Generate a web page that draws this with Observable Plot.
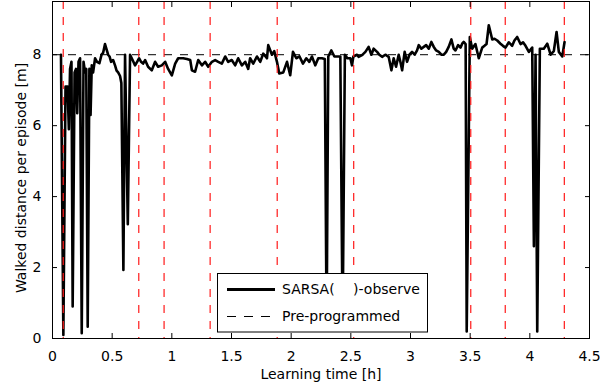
<!DOCTYPE html>
<html>
<head>
<meta charset="utf-8">
<script src="https://cdn.jsdelivr.net/npm/d3@7"></script>
<script src="https://cdn.jsdelivr.net/npm/@observablehq/plot@0.6"></script>
<style>
  html, body { margin: 0; padding: 0; background: white; }
  #chart svg { display: block; }
</style>
</head>
<body>
<div id="chart"></div>
<script>
// Learning time [h] of each episode
const learningTime = [
  0.071, 0.091, 0.109, 0.126, 0.137, 0.147, 0.159, 0.169, 0.185, 0.197,
  0.207, 0.218, 0.231, 0.245, 0.260, 0.273, 0.283, 0.295, 0.309, 0.319,
  0.329, 0.340, 0.357, 0.373, 0.393, 0.411, 0.424, 0.440, 0.453, 0.466,
  0.478, 0.491, 0.508, 0.524, 0.537, 0.550, 0.566, 0.577, 0.594, 0.608,
  0.631, 0.650, 0.671, 0.692, 0.709, 0.726, 0.742, 0.759, 0.776, 0.801,
  0.832, 0.860, 0.885, 0.916, 0.944, 0.969, 1.000, 1.028, 1.053, 1.095,
  1.126, 1.154, 1.168, 1.195, 1.221, 1.252, 1.279, 1.305, 1.336, 1.363,
  1.389, 1.419, 1.447, 1.472, 1.502, 1.531, 1.556, 1.587, 1.615, 1.640,
  1.656, 1.682, 1.713, 1.741, 1.766, 1.797, 1.808, 1.839, 1.858, 1.881,
  1.900, 1.934, 1.965, 1.992, 2.015, 2.043, 2.070, 2.099, 2.127, 2.152,
  2.174, 2.202, 2.227, 2.258, 2.282, 2.297, 2.311, 2.336, 2.362, 2.387,
  2.412, 2.431, 2.450, 2.471, 2.496, 2.510, 2.521, 2.552, 2.565, 2.594,
  2.622, 2.649, 2.672, 2.691, 2.720, 2.739, 2.762, 2.789, 2.817, 2.840,
  2.859, 2.879, 2.901, 2.915, 2.930, 2.951, 2.971, 2.991, 3.013, 3.035,
  3.055, 3.069, 3.091, 3.111, 3.131, 3.153, 3.175, 3.195, 3.215, 3.237,
  3.259, 3.279, 3.299, 3.320, 3.343, 3.362, 3.377, 3.399, 3.419, 3.433,
  3.446, 3.462, 3.471, 3.497, 3.517, 3.544, 3.572, 3.601, 3.620, 3.637,
  3.656, 3.685, 3.704, 3.727, 3.754, 3.775, 3.796, 3.824, 3.852, 3.871,
  3.894, 3.922, 3.943, 3.964, 3.992, 4.020, 4.034, 4.048, 4.062, 4.084,
  4.117, 4.146, 4.174, 4.201, 4.224, 4.243, 4.272, 4.291
];
// Walked distance per episode [m], SARSA(λ)-observe
const walkedDistance = [
  8.00, 0.10, 7.10, 7.10, 5.90, 7.60, 7.80, 0.90, 7.50, 7.60,
  6.35, 7.80, 7.90, 0.15, 7.80, 7.50, 7.60, 0.33, 7.60, 6.30,
  7.70, 7.50, 7.90, 7.80, 7.76, 8.00, 8.05, 8.30, 8.15, 8.00,
  7.95, 7.80, 7.85, 7.70, 7.55, 7.50, 7.40, 7.20, 1.93, 8.00,
  3.22, 8.00, 7.85, 7.70, 7.80, 7.90, 7.80, 7.75, 7.85, 7.66,
  7.56, 7.80, 7.66, 7.70, 7.80, 7.60, 7.42, 7.75, 7.90, 7.90,
  7.88, 7.85, 7.56, 7.52, 7.85, 7.70, 7.80, 7.66, 7.80, 7.85,
  7.80, 7.75, 7.95, 7.80, 7.85, 7.70, 7.90, 7.70, 7.80, 7.60,
  7.90, 7.75, 7.95, 7.80, 8.03, 7.90, 8.27, 8.00, 8.10, 7.80,
  7.47, 7.50, 7.80, 7.42, 8.08, 7.90, 7.95, 7.75, 7.90, 7.80,
  7.95, 7.70, 7.90, 7.90, 7.88, 0.25, 7.95, 8.12, 7.95, 7.95,
  7.95, 0.30, 8.00, 7.90, 7.90, 7.70, 7.95, 8.00, 7.94, 7.99,
  8.08, 8.22, 8.00, 8.17, 8.08, 8.00, 7.94, 8.00, 7.94, 7.56,
  7.90, 7.66, 8.00, 7.80, 7.56, 8.08, 7.80, 8.00, 8.08, 8.00,
  8.12, 8.27, 8.17, 8.22, 8.27, 8.17, 8.36, 8.22, 8.12, 8.08,
  8.00, 8.00, 8.08, 8.22, 8.43, 8.17, 8.12, 8.27, 8.20, 8.31,
  8.36, 8.30, 0.20, 8.50, 8.17, 8.30, 7.90, 8.20, 8.25, 8.30,
  8.83, 8.43, 8.45, 8.40, 8.31, 8.25, 8.20, 8.35, 8.25, 8.40,
  8.50, 8.30, 8.35, 8.25, 8.08, 8.20, 2.60, 8.00, 0.20, 8.17,
  8.17, 8.31, 8.00, 8.10, 8.64, 8.08, 7.95, 8.36
];
// Pre-programmed reference distance [m]
const preProgrammed = [8];
// Red dashed event markers [h]
const markerTimes = [0.090, 0.723, 0.935, 1.321, 1.883, 2.524, 3.505, 3.794, 4.289];

const xTicks = [0, 0.5, 1, 1.5, 2, 2.5, 3, 3.5, 4, 4.5];
const xTickLabels = ["0", "0.5", "1", "1.5", "2", "2.5", "3", "3.5", "4", "4.5"];
const yTicks = [0, 2, 4, 6, 8];
const yTickLabels = ["0", "2", "4", "6", "8"];

const xLabel = "Learning time [h]";
const yLabel = "Walked distance per episode [m]";
const legendLabels = ["SARSA(\u2003\u00a0)-observe", "Pre-programmed"];

const series = learningTime.map((t, i) => ({t, d: walkedDistance[i]}));

const font = "DejaVu Sans";

const chart = Plot.plot({
  width: 600,
  height: 391,
  marginLeft: 52,
  marginRight: 11,
  marginTop: 1,
  marginBottom: 53,
  style: {fontFamily: font, fontSize: "14px", color: "black", background: "white"},
  x: {domain: [0, 4.5]},
  y: {domain: [0, 9.5]},
  marks: [
    Plot.line(series, {x: "t", y: "d", stroke: "black", strokeWidth: 2.6}),
    Plot.ruleY(preProgrammed, {stroke: "black", strokeWidth: 1, strokeDasharray: "8,8"}),
    Plot.ruleX(markerTimes, {stroke: "#ff1a1a", strokeWidth: 1.2, strokeDasharray: "8,8"}),
    Plot.frame({stroke: "black", strokeWidth: 1}),
    Plot.axisX({anchor: "bottom", ticks: xTicks, tickSize: -5, tickPadding: 18,
      tickFormat: d => xTickLabels[xTicks.indexOf(d)], label: null, fontSize: 14}),
    Plot.axisX({anchor: "top", ticks: xTicks, tickSize: -5, tickFormat: () => "", label: null}),
    Plot.axisY({anchor: "left", ticks: yTicks, tickSize: -5, tickPadding: 16,
      tickFormat: d => yTickLabels[yTicks.indexOf(d)], label: null, fontSize: 14}),
    Plot.axisY({anchor: "right", ticks: yTicks, tickSize: -5, tickFormat: () => "", label: null}),
    Plot.text([xLabel], {frameAnchor: "bottom", dy: 40, fontSize: 14, fill: "black"}),
    Plot.text([yLabel], {frameAnchor: "left", textAnchor: "middle", rotate: -90, dx: -31, dy: 8, fontSize: 14, fill: "black"})
  ]
});

document.getElementById("chart").appendChild(chart);

// Legend box (drawn on top, like the original)
const svg = d3.select(chart);
const lg = svg.append("g").attr("font-family", font).attr("font-size", 14).attr("text-anchor", "start");
lg.append("rect").attr("x", 217.5).attr("y", 273.5).attr("width", 210).attr("height", 58.5)
  .attr("fill", "white").attr("stroke", "black").attr("stroke-width", 1);
lg.append("line").attr("x1", 227).attr("x2", 275).attr("y1", 289.5).attr("y2", 289.5)
  .attr("stroke", "black").attr("stroke-width", 3);
lg.append("text").attr("x", 282).attr("y", 289.5).attr("dy", "0.35em").attr("fill", "black")
  .attr("text-anchor", "start").text(legendLabels[0]);
lg.append("line").attr("x1", 227).attr("x2", 275).attr("y1", 316.5).attr("y2", 316.5)
  .attr("stroke", "black").attr("stroke-width", 1).attr("stroke-dasharray", "9,8");
lg.append("text").attr("x", 282).attr("y", 316.5).attr("dy", "0.35em").attr("fill", "black")
  .attr("text-anchor", "start").text(legendLabels[1]);
</script>
</body>
</html>
